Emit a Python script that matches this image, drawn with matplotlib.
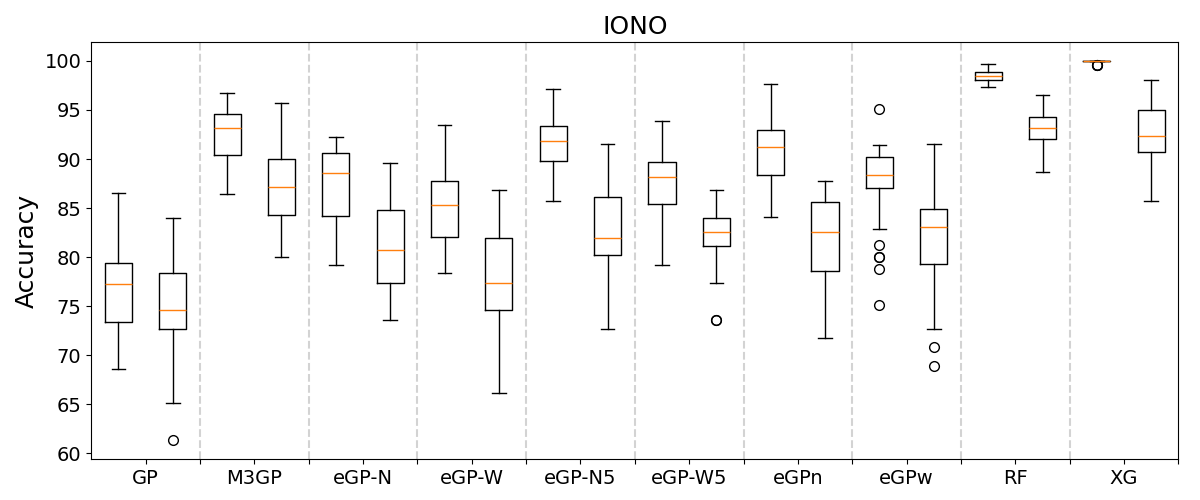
import matplotlib
matplotlib.use("Agg")
import matplotlib.pyplot as plt
import numpy as np

categories = ["GP", "M3GP", "eGP-N", "eGP-W", "eGP-N5", "eGP-W5", "eGPn", "eGPw", "RF", "XG"]

# Two boxes per category (train, test), in order
medians = [77.3, 74.6, 93.2, 87.2, 88.6, 80.7, 85.3, 77.35, 91.85, 82.0,
           88.15, 82.55, 91.2, 82.55, 88.4, 83.05, 98.45, 93.15, 100.0, 92.35]
q1s = [73.4, 72.65, 90.4, 84.3, 84.2, 77.35, 82.05, 74.6, 89.8, 80.2,
       85.4, 81.1, 88.4, 78.6, 87.05, 79.3, 98.05, 92.05, 100.0, 90.7]
q3s = [79.4, 78.35, 94.6, 90.05, 90.6, 84.85, 87.75, 82.0, 93.35, 86.1,
       89.65, 83.95, 92.95, 85.6, 90.2, 84.9, 98.9, 94.3, 100.0, 95.0]
whislos = [68.55, 65.1, 86.45, 80.0, 79.2, 73.55, 78.35, 66.1, 85.7, 72.65,
           79.15, 77.35, 84.1, 71.75, 82.85, 72.65, 97.35, 88.65, 100.0, 85.7]
whishis = [86.55, 84.0, 96.75, 95.75, 92.25, 89.6, 93.45, 86.85, 97.15, 91.55,
           93.9, 86.85, 97.6, 87.75, 91.45, 91.55, 99.65, 96.55, 100.0, 98.05]
fliers = [[], [61.35], [], [], [], [], [], [], [], [],
          [], [73.55, 73.55], [], [], [95.1, 81.2, 80.0, 80.0, 78.8, 75.1], [70.8, 68.85],
          [], [], [99.6, 99.6, 99.6], []]

stats = []
for i in range(len(medians)):
    stats.append(dict(med=medians[i], q1=q1s[i], q3=q3s[i],
                      whislo=whislos[i], whishi=whishis[i], fliers=fliers[i]))

fig, ax = plt.subplots(figsize=(12, 5), dpi=100)
fig.subplots_adjust(left=0.076, right=0.982, top=0.916, bottom=0.082)

positions = np.arange(1, len(stats) + 1)
ax.bxp(stats, positions=positions, widths=0.5, showfliers=True,
       flierprops=dict(marker='o', markerfacecolor='none', markeredgecolor='black', markersize=7),
       medianprops=dict(color='#ff7f0e'))

for k in range(1, len(categories)):
    ax.axvline(2 * k + 0.5, color='lightgray', linestyle='--', linewidth=1.5, zorder=0)

ax.set_xlim(0.5, len(stats) + 0.5)
ax.set_xticks(np.arange(1.5, len(stats), 2))
ax.set_xticklabels(categories, fontsize=14)
ax.set_xticks(np.arange(2.5, len(stats) + 1, 2), minor=True)
ax.tick_params(axis='x', which='minor', length=3.5, width=0.8)
ax.tick_params(axis='y', labelsize=14)
ax.set_yticks([60, 65, 70, 75, 80, 85, 90, 95, 100])
ax.set_ylabel("Accuracy", fontsize=18)
ax.set_title("IONO", fontsize=18)

fig.savefig("out.png", dpi=100)
